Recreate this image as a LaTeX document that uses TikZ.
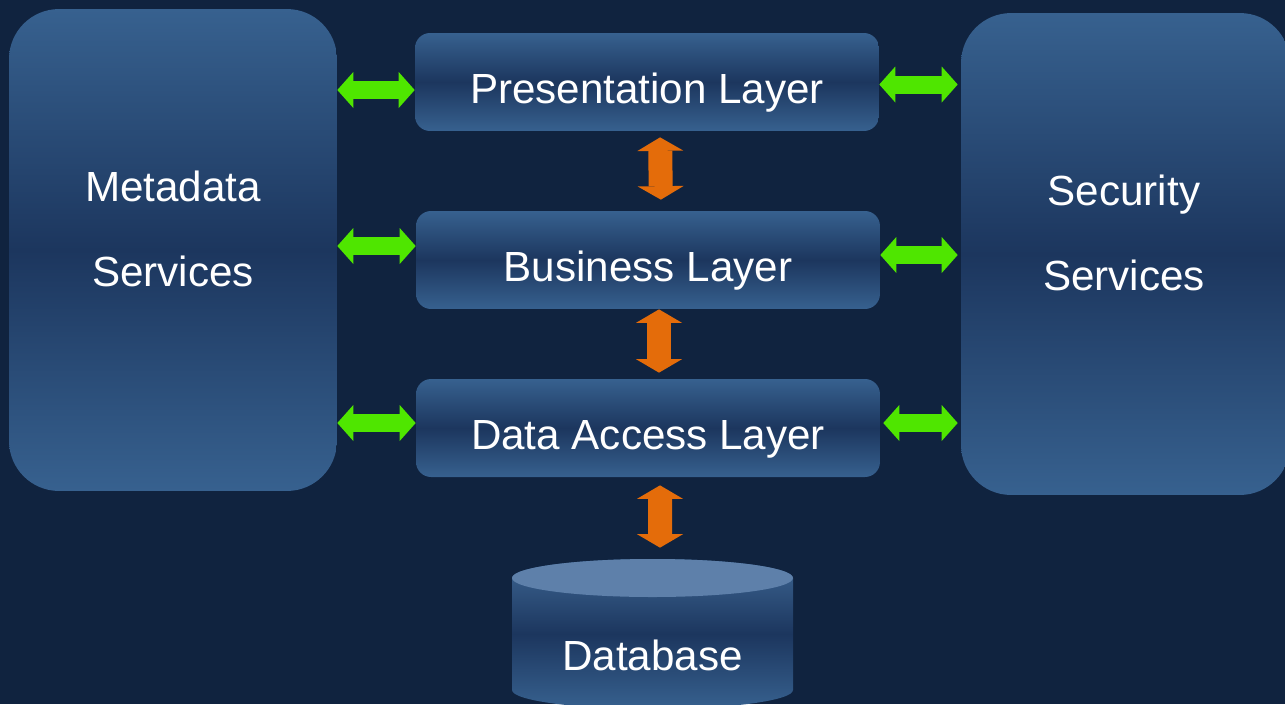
\documentclass[tikz,border=0pt]{standalone}
\usepackage{fontspec}
\setmainfont{Liberation Sans}
\usetikzlibrary{arrows.meta,calc}
\definecolor{bgc}{HTML}{10233F}
\definecolor{boxlight}{HTML}{37618F}
\definecolor{boxdark}{HTML}{1C365E}
\definecolor{dbtop}{HTML}{5E80AA}
\definecolor{garr}{HTML}{4FE600}
\definecolor{oarr}{HTML}{E46C0A}
\tikzset{
  sidebox/.style={rounded corners=1cm, minimum width=6.56cm, minimum height=9.64cm,
    top color=boxlight, bottom color=boxlight, middle color=boxdark, draw=none},
  sidetext/.style={text=white, align=center, font=\fontsize{24}{48}\selectfont, inner sep=0pt},
  layerbox/.style={rounded corners=0.3cm, minimum width=9.28cm, minimum height=1.96cm,
    top color=boxlight, bottom color=boxlight, middle color=boxdark, draw=none,
    text=white, font=\fontsize{24}{29}\selectfont, text height=24.5pt, text depth=0pt},
  garrow/.style={draw=garr, line width=0.36cm,
    {Triangle[length=0.32cm,width=0.72cm,line width=0pt]}-{Triangle[length=0.32cm,width=0.72cm,line width=0pt]}},
  oarrow/.style={draw=oarr, line width=0.48cm,
    {Triangle[length=0.27cm,width=0.92cm,line width=0pt]}-{Triangle[length=0.27cm,width=0.92cm,line width=0pt]}},
}
\begin{document}
\begin{tikzpicture}[x=0.02cm,y=-0.02cm]
\fill[bgc] (0,0) rectangle (1285,704);
\useasboundingbox (0,0) rectangle (1285,704);
\clip (0,0) rectangle (1285,704);

\node[sidebox] (meta) at (173,250) {};
\node[sidetext] (metatext) at (173,229) {Metadata\\Services};
\node[sidebox, minimum width=6.58cm] (sec) at (1125.5,254) {};
\node[sidetext] (sectext) at (1124,233) {Security\\Services};

\node[layerbox] (pres) at (647,82) {Presentation Layer};
\node[layerbox] (bus) at (648,260) {Business Layer};
\node[layerbox] (dal) at (648,428) {Data Access Layer};

% database cylinder
\shade[top color=boxlight!85!dbtop, bottom color=boxlight, middle color=boxdark]
  (512,578) -- (512,690) arc[start angle=180, end angle=0, x radius=140.5, y radius=19]
  -- (793,578) arc[start angle=360, end angle=180, x radius=140.5, y radius=19] -- cycle;
\fill[dbtop] (652.5,578) ellipse[x radius=140.5, y radius=19];
\node[minimum width=5.62cm, minimum height=2.6cm, inner sep=0pt] (db) at (652.5,624) {};
\node[text=white, font=\fontsize{24}{29}\selectfont] (dbtext) at (652.5,655) {Database};

% green arrows left
\draw[garrow] (meta.east |- 0,90) -- (pres.west |- 0,90);
\draw[garrow] (meta.east |- 0,246) -- (bus.west |- 0,246);
\draw[garrow] (meta.east |- 0,423) -- (dal.west |- 0,423);
% green arrows right
\draw[garrow, shorten >=0.06cm] (pres.east |- 0,84.5) -- (sec.west |- 0,84.5);
\draw[garrow, shorten >=0.06cm] (bus.east |- 0,255) -- (sec.west |- 0,255);
\draw[garrow, shorten >=0.06cm, shorten <=0.06cm] (dal.east |- 0,423) -- (sec.west |- 0,423);

% orange arrows
\draw[oarrow, shorten <=0.12cm, shorten >=0.22cm] ($(pres.south)+(13,0)$) -- ($(bus.north)+(13,0)$);
\draw[oarrow, shorten >=0.12cm] ($(bus.south)+(11,0)$) -- ($(dal.north)+(11,0)$);
\draw[oarrow, shorten <=0.16cm, shorten >=0.22cm] ($(dal.south)+(12,0)$) -- ($(db.north)+(7.5,0)$);
\end{tikzpicture}
\end{document}
